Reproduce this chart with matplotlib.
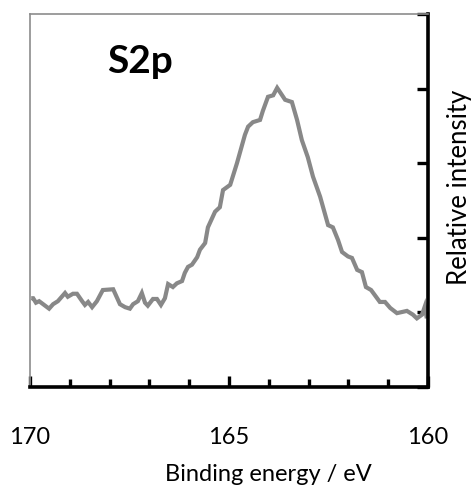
import matplotlib
matplotlib.use("Agg")
import matplotlib.pyplot as plt
from matplotlib.ticker import MultipleLocator, FixedLocator

# S2p XPS spectrum (binding energy in eV, relative intensity in arbitrary units)
binding_energy = [
    169.97, 169.92, 169.85, 169.77, 169.67, 169.52, 169.42, 169.30, 169.12, 169.05,
    168.92, 168.82, 168.69, 168.62, 168.54, 168.44, 168.32, 168.17, 167.91, 167.74,
    167.61, 167.49, 167.41, 167.29, 167.19, 167.11, 167.04, 166.91, 166.81, 166.71,
    166.61, 166.53, 166.41, 166.31, 166.18, 166.11, 166.03, 165.93, 165.80, 165.73,
    165.60, 165.53, 165.35, 165.23, 165.15, 164.97, 164.80, 164.60, 164.52, 164.40,
    164.22, 164.15, 164.02, 163.89, 163.79, 163.59, 163.42, 163.29, 163.17, 163.02,
    162.89, 162.71, 162.51, 162.39, 162.26, 162.16, 162.01, 161.91, 161.78, 161.66,
    161.56, 161.43, 161.21, 161.08, 160.95, 160.78, 160.53, 160.38, 160.28, 160.15,
    160.08, 160.03,
]
intensity = [
    1.19, 1.19, 1.13, 1.15, 1.11, 1.05, 1.11, 1.15, 1.26, 1.21,
    1.25, 1.25, 1.15, 1.10, 1.14, 1.07, 1.15, 1.30, 1.31, 1.11,
    1.07, 1.05, 1.11, 1.15, 1.26, 1.13, 1.09, 1.18, 1.18, 1.10,
    1.19, 1.38, 1.34, 1.39, 1.42, 1.53, 1.61, 1.64, 1.74, 1.84,
    1.93, 2.14, 2.35, 2.41, 2.64, 2.71, 3.00, 3.38, 3.49, 3.55,
    3.58, 3.70, 3.89, 3.91, 4.01, 3.85, 3.82, 3.58, 3.31, 3.08,
    2.82, 2.55, 2.17, 2.14, 1.97, 1.81, 1.75, 1.73, 1.57, 1.54,
    1.34, 1.30, 1.14, 1.14, 1.06, 0.99, 1.02, 0.97, 0.92, 0.97,
    1.08, 0.92,
]
x_tick_labels = ["170", "165", "160"]
x_label_positions = [170, 165, 160]

plt.rcParams["font.family"] = ["Lato", "DejaVu Sans"]

fig = plt.figure(figsize=(4.74, 4.86), dpi=100)
ax = fig.add_axes([30 / 474, 99 / 486, 398 / 474, 373 / 486])

ax.plot(binding_energy, intensity, color="#888888", lw=3.0,
        solid_joinstyle="miter", solid_capstyle="butt", clip_on=False)

ax.set_xlim(170, 160)
ax.set_ylim(0, 5)

# spines: light left/top, heavy bottom/right
for side in ("left", "top"):
    ax.spines[side].set_color("#8c8c8c")
    ax.spines[side].set_linewidth(1.2)
for side in ("bottom", "right"):
    ax.spines[side].set_color("black")
    ax.spines[side].set_linewidth(2.6)

# x axis: inward ticks every 1 eV, labels every 5 eV
ax.xaxis.set_major_locator(FixedLocator(x_label_positions))
ax.xaxis.set_minor_locator(MultipleLocator(1))
ax.set_xticklabels(x_tick_labels)
ax.tick_params(axis="x", which="major", direction="in", length=8, width=2.4,
               color="black", labelsize=17, pad=29)
ax.tick_params(axis="x", which="minor", direction="in", length=6, width=2.4,
               color="black")

# y axis: ticks on the right, no labels
ax.yaxis.set_major_locator(MultipleLocator(1))
ax.yaxis.tick_right()
ax.tick_params(axis="y", which="major", direction="in", length=8, width=2.4,
               color="black", labelright=False, labelleft=False)

ax.text(0.193, 0.842, "S2p", transform=ax.transAxes, fontsize=28,
        fontweight="bold", ha="left", va="baseline")

fig.text(268 / 474, 1 - 474 / 486, "Binding energy / eV", fontsize=17,
         ha="center", va="center")
fig.text(460 / 474, 1 - 187 / 486, "Relative intensity", fontsize=18.5,
         rotation=90, ha="center", va="center")

fig.savefig("out.png", dpi=100)
